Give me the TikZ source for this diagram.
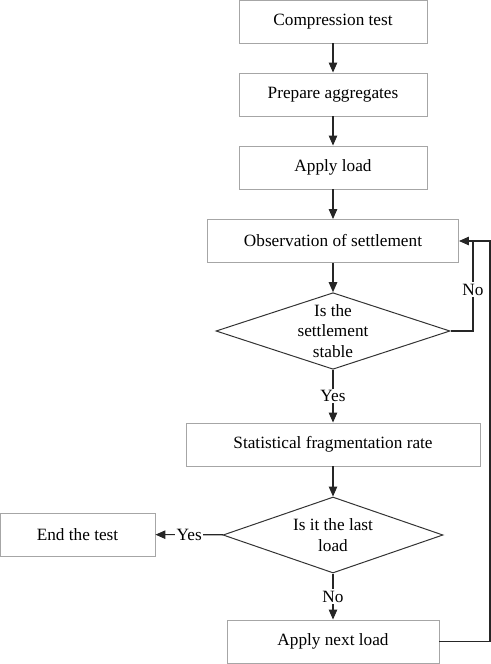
\documentclass[tikz,border=0pt]{standalone}
\usepackage{fontspec}
\setmainfont{Liberation Serif}
\usetikzlibrary{shapes.geometric,arrows.meta}

\begin{document}
\begin{tikzpicture}
[x=1bp,y=-1bp,
  lineDecorate/.style={-{Triangle[length=10bp,width=8.5bp]},line width=1.1bp,draw=black!85},%
  plainDecorate/.style={-,line width=1.1bp,draw=black!85},%
  boxDecorate/.style={shape=rectangle,draw=black!35,line width=0.9bp,minimum height=43bp,inner sep=0pt},%
  diamondDecorate/.style={shape=diamond,draw=black!80,line width=1bp,aspect=3,inner sep=0pt,
    align=center,minimum height=76bp},%
  labelDecorate/.style={fill=white,inner sep=1.5bp}]
\fontsize{17.3}{20.5}\selectfont
\useasboundingbox (0,0) rectangle (491,664);
%% boxes
\foreach \nodename/\x/\y/\w/\txt in {
  comp/333/21.5/188/{Compression test}, prep/333/94.5/188/{Prepare aggregates},
  load/333/167.5/188/{Apply load}, obs/333/241/251/{Observation of settlement},
  stat/333/444.5/294/{Statistical fragmentation rate}, endt/77.5/534.5/155/{End the test},
  next/333/641.5/212/{Apply next load}}
{
  \node (\nodename) at (\x,\y) [boxDecorate,minimum width=\w bp] {\txt};
}
%% decisions
\node (stab) at (333,331) [diamondDecorate,minimum width=234bp] {Is the\\settlement\\stable};
\node (last) at (333,535) [diamondDecorate,minimum width=220bp] {Is it the last\\load};
\coordinate (backN) at (473,241);
\coordinate (backR) at (490,241);
%% lines
\path
\foreach \startnode/\endnode in {comp/prep, prep/load, load/obs, obs/stab, stat/last}
{
  (\startnode) edge[lineDecorate] (\endnode)
};
\path (stab) edge[lineDecorate] node[labelDecorate] {Yes} (stat)
      (last) edge[lineDecorate] node[labelDecorate] {No} (next)
      (last) edge[lineDecorate] node[labelDecorate] {Yes} (endt);
\draw[plainDecorate] (stab.east) -| node[labelDecorate,pos=0.73] {No} (backN);
\draw[lineDecorate] (next.east) -| (backR) -- (obs.east);
\end{tikzpicture}
\end{document}
